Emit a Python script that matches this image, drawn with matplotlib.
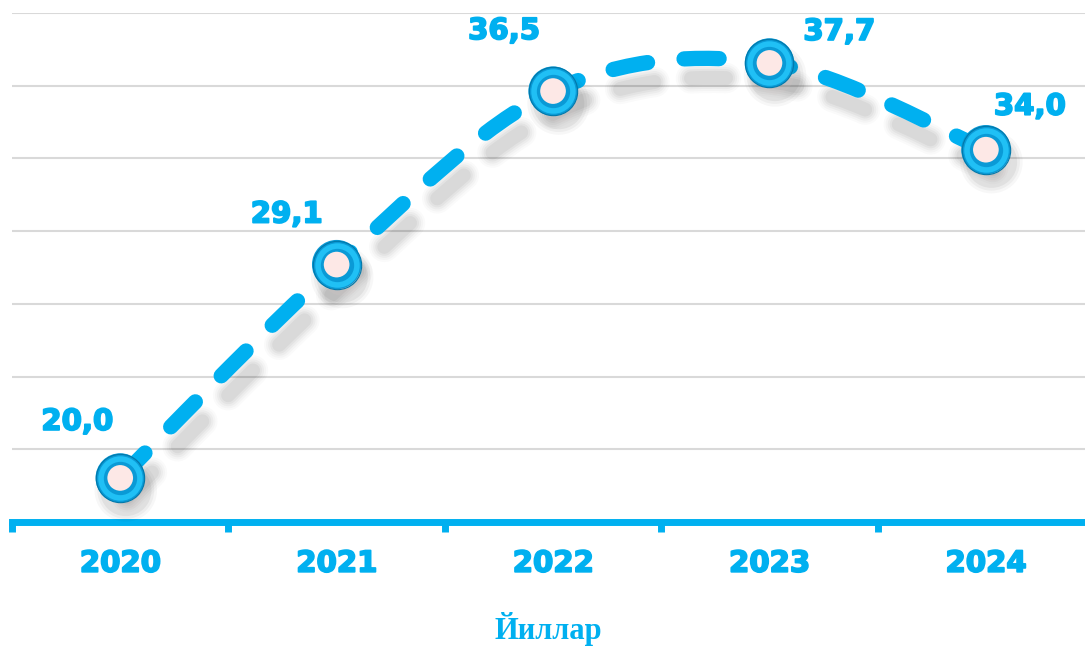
import numpy as np
import matplotlib
matplotlib.use("Agg")
import matplotlib.pyplot as plt
from matplotlib.path import Path
from matplotlib.patches import PathPatch
import matplotlib.patheffects as pe

# Data
years = ["2020", "2021", "2022", "2023", "2024"]
values = [20.0, 29.1, 36.5, 37.7, 34.0]
labels = ["20,0", "29,1", "36,5", "37,7", "34,0"]
label_offsets = [(-43, 56), (-50, 50), (-49, 60), (70, 31), (44, 43)]  # px

CYAN = "#00B0F0"
W, H = 1085, 647
DPI = 100

fig = plt.figure(figsize=(W / DPI, H / DPI), dpi=DPI)
ax = fig.add_axes([12 / W, (H - 522) / H, (W - 12) / W, (522 - 13) / H])

ymin, ymax = 18.12, 39.83
ax.set_ylim(ymin, ymax)
ax.set_xlim(-0.5, 4.458)

# gridlines
ax.set_yticks(np.linspace(ymin, ymax, 8))
ax.yaxis.grid(True, color="#d9d9d9", linewidth=1.5)
ax.set_axisbelow(True)
ax.tick_params(axis="y", left=False, labelleft=False)

for s in ["top", "right", "left"]:
    ax.spines[s].set_visible(False)
ax.spines["bottom"].set_color(CYAN)
ax.spines["bottom"].set_linewidth(5)

bold = [pe.withStroke(linewidth=1.3, foreground=CYAN)]

ax.set_xticks(np.arange(-0.5, 4.0, 1.0))
ax.set_xticks(np.arange(5), minor=True)
ax.set_xticklabels([])
ax.set_xticklabels(years, minor=True, fontsize=21, fontweight="bold",
                   color=CYAN, family="DejaVu Sans")
for t in ax.get_xticklabels(minor=True):
    t.set_path_effects(bold)
ax.tick_params(axis="x", which="major", length=7, width=5, color=CYAN)
ax.tick_params(axis="x", which="minor", length=0, pad=20)

ax.set_xlabel("Йиллар", fontsize=22, fontweight="bold", color=CYAN,
              family="Liberation Serif", labelpad=25)

# smoothed curve (Excel-like bezier through the points)
x = np.arange(len(values), dtype=float)
y = np.array(values)
px = np.concatenate([[x[0]], x, [x[-1]]])
py = np.concatenate([[y[0]], y, [y[-1]]])
verts = [(x[0], y[0])]
codes = [Path.MOVETO]
for i in range(1, len(x)):
    c1 = (px[i] + (px[i + 1] - px[i - 1]) / 6, py[i] + (py[i + 1] - py[i - 1]) / 6)
    c2 = (px[i + 1] - (px[i + 2] - px[i]) / 6, py[i + 1] - (py[i + 2] - py[i]) / 6)
    verts += [c1, c2, (px[i + 1], py[i + 1])]
    codes += [Path.CURVE4] * 3
curve = PathPatch(Path(verts, codes), fill=False, edgecolor=CYAN, linewidth=11,
                  linestyle=(0, (2.3, 2.4)), capstyle="round", zorder=3)
shadow = [pe.Stroke(offset=(5, -14), linewidth=lw, foreground="#000000", alpha=a)
          for lw, a in [(22, 0.02), (19, 0.025), (16, 0.03), (13, 0.035), (10, 0.045)]]
curve.set_path_effects(shadow + [pe.Normal()])
ax.add_patch(curve)

# markers
mshadow = [pe.Stroke(offset=(4, -9), linewidth=lw, foreground="#000000", alpha=a)
           for lw, a in [(18, 0.03), (14, 0.04), (10, 0.05)]]
ax.plot(x, y, linestyle="none", marker="o", markersize=27,
        markerfacecolor="#fde8e6", markeredgecolor="#0a9ad6",
        markeredgewidth=8.5, zorder=4, path_effects=mshadow + [pe.Normal()])
ax.plot(x, y, linestyle="none", marker="o", markersize=28,
        markerfacecolor="none", markeredgecolor="#20c0f5",
        markeredgewidth=4, zorder=5)
ax.plot(x, y, linestyle="none", marker="o", markersize=34.8,
        markerfacecolor="none", markeredgecolor="#0078aa",
        markeredgewidth=0.8, zorder=5)

# data labels
for xi, yi, lab, (dx, dy) in zip(x, y, labels, label_offsets):
    ax.annotate(lab, (xi, yi), xytext=(dx * 72 / DPI, dy * 72 / DPI),
                textcoords="offset points", ha="center", va="center",
                fontsize=21, fontweight="bold", color=CYAN, zorder=6,
                path_effects=bold)

fig.savefig("out.png", dpi=DPI)
